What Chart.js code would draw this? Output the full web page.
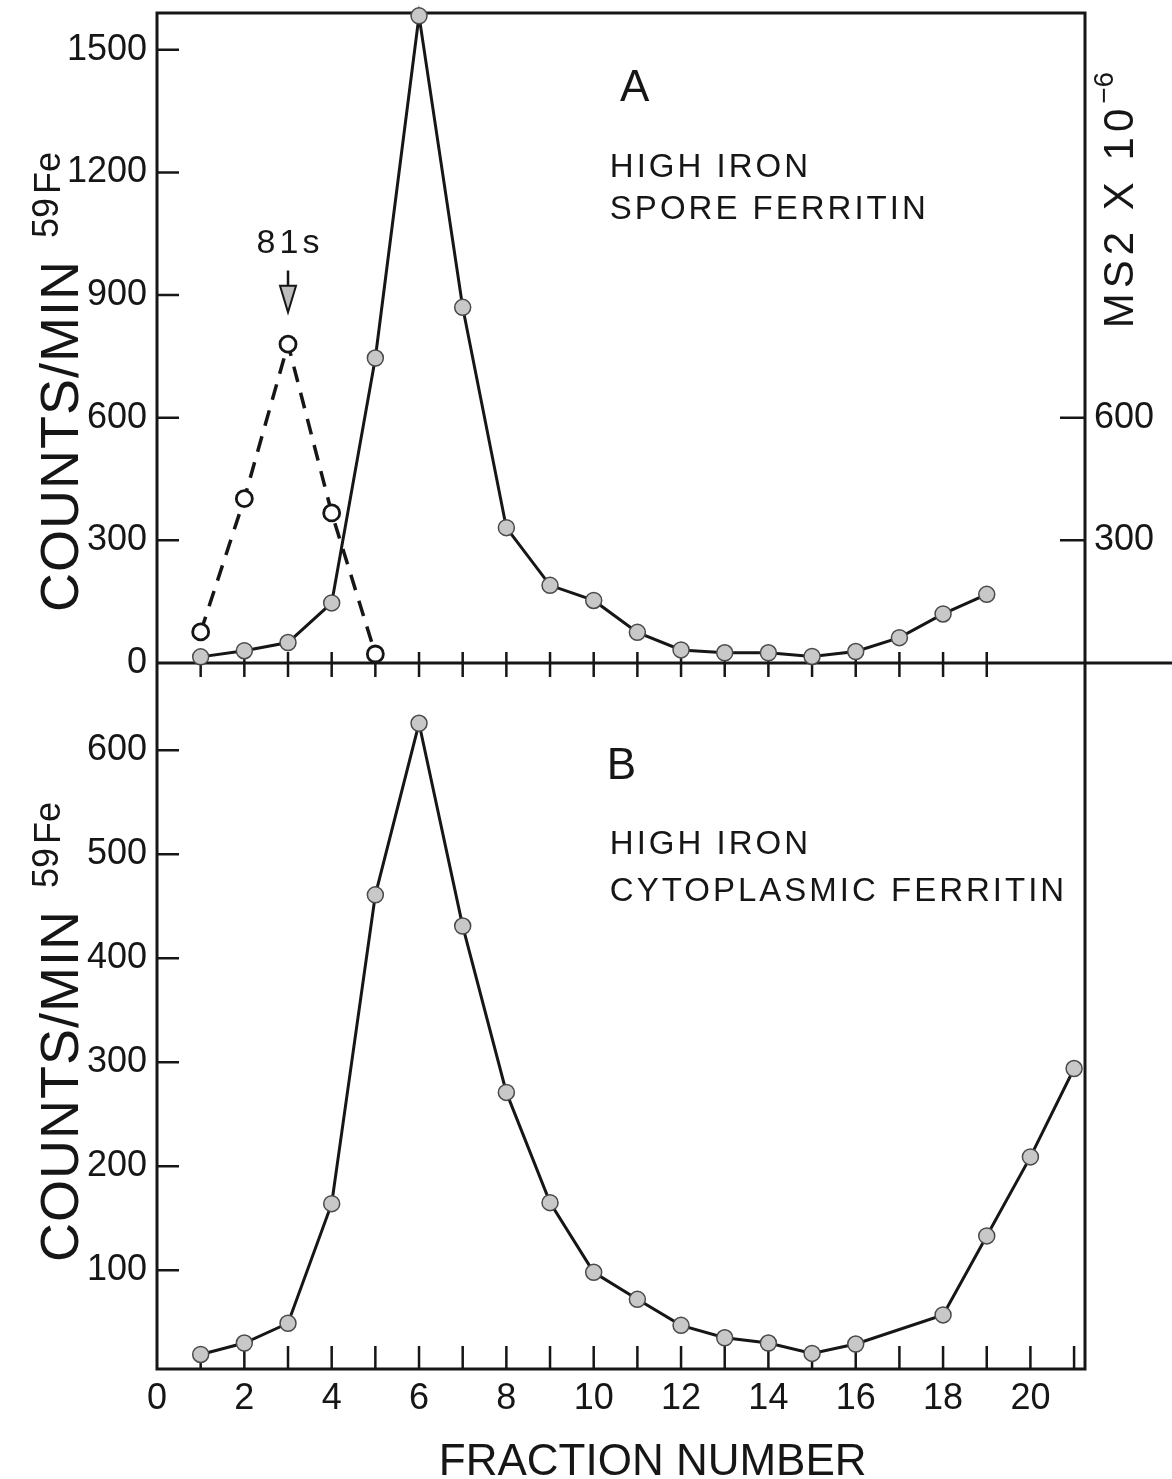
<!DOCTYPE html>
<html>
<head>
<meta charset="utf-8">
<title>Ferritin sedimentation</title>
<script src="https://cdn.jsdelivr.net/npm/chart.js@4.4.1/dist/chart.umd.min.js"></script>
<style>
  body { margin: 0; background: #fff; }
  #wrap { position: relative; width: 1172px; height: 1479px; }
  canvas { position: absolute; left: 0; }
  #chartA { top: 0; }
  #chartB { top: 650px; }
</style>
</head>
<body>
<div id="wrap">
  <canvas id="chartB" width="1172" height="829"></canvas>
  <canvas id="chartA" width="1172" height="700"></canvas>
</div>
<script>
// panel A - high iron spore ferritin (counts/min 59Fe)
const fractionsA = [1, 2, 3, 4, 5, 6, 7, 8, 9, 10, 11, 12, 13, 14, 15, 16, 17, 18, 19];
const sporeFerritin = [15, 30, 50, 147, 746, 1583, 870, 331, 190, 153, 75, 32, 25, 25, 16, 28, 62, 120, 168];

// MS2 marker (dashed, open circles), 81s peak at fraction 3
const fractionsMS2 = [1, 2, 3, 4, 5];
const ms2Marker = [76, 402, 780, 367, 22];

// panel B - high iron cytoplasmic ferritin
const fractionsB = [1, 2, 3, 4, 5, 6, 7, 8, 9, 10, 11, 12, 13, 14, 15, 16, 18, 19, 20, 21];
const cytoFerritin = [19, 30, 49, 164, 461, 626, 431, 271, 165, 98, 72, 47, 35, 30, 20, 29, 57, 133, 209, 294];

// ticks
const xTickLabels = [0, 2, 4, 6, 8, 10, 12, 14, 16, 18, 20];
const xTickMarksB = [1, 2, 3, 4, 5, 6, 7, 8, 9, 10, 11, 12, 13, 14, 15, 16, 17, 18, 19, 20, 21];
const yTicksA = [0, 300, 600, 900, 1200, 1500];
const yTicksMS2 = [300, 600];
const yTicksB = [100, 200, 300, 400, 500, 600];

const INK = '#161616';
const FONT = '"Liberation Sans", Arial, sans-serif';

const pts = (xs, ys) => xs.map((x, i) => ({ x: x, y: ys[i] }));
const fixTicks = list => s => { s.ticks = list.map(v => ({ value: v })); };
const tickFont = { family: FONT, size: 36 };

// fixed box sizes, no label overflow padding
const fixWidth = w => s => { s.width = w; s.paddingTop = 0; s.paddingBottom = 0; };
const fixHeight = h => s => { s.height = h; s.paddingLeft = 0; s.paddingRight = 0; };

function text(ctx, s, x, y, size, spacing, align) {
  ctx.font = size + 'px ' + FONT;
  ctx.letterSpacing = (spacing || 0) + 'px';
  ctx.textAlign = align || 'left';
  ctx.textBaseline = 'alphabetic';
  ctx.fillText(s, x, y);
}

// rotated (bottom to top) title made of parts with own size and raise
function rotTitle(ctx, cy, baseX, parts) {
  ctx.save();
  ctx.translate(baseX, cy);
  ctx.rotate(-Math.PI / 2);
  ctx.textBaseline = 'alphabetic';
  ctx.textAlign = 'left';
  let total = 0;
  parts.forEach(p => {
    ctx.font = p.size + 'px ' + FONT;
    ctx.letterSpacing = (p.sp || 0) + 'px';
    p.w = ctx.measureText(p.t).width;
    total += p.w + (p.gap || 0);
  });
  let pos = -total / 2;
  parts.forEach(p => {
    ctx.font = p.size + 'px ' + FONT;
    ctx.letterSpacing = (p.sp || 0) + 'px';
    ctx.fillText(p.t, pos, -(p.raise || 0));
    pos += p.w + (p.gap || 0);
  });
  ctx.restore();
}

const countsTitle = [
  { t: 'COUNTS/MIN', size: 54, sp: 1, gap: 22 },
  { t: '59', size: 36, raise: 20, gap: 4 },
  { t: 'Fe', size: 36, raise: 18 }
];

const frameA = {
  id: 'frameA',
  beforeDatasetsDraw(chart) {
    const { ctx, chartArea: a } = chart;
    const { x, y, y2 } = chart.scales;
    ctx.save();
    ctx.strokeStyle = INK;
    ctx.lineWidth = 3;
    ctx.beginPath();
    ctx.moveTo(a.left, a.bottom);
    ctx.lineTo(a.left, a.top);
    ctx.lineTo(a.right, a.top);
    ctx.lineTo(a.right, a.bottom);
    ctx.moveTo(a.left, a.bottom);
    ctx.lineTo(chart.width, a.bottom);
    ctx.stroke();
    ctx.lineWidth = 2.5;
    ctx.beginPath();
    y.ticks.forEach(t => {
      if (t.value === 0) return;
      const py = y.getPixelForValue(t.value);
      ctx.moveTo(a.left, py); ctx.lineTo(a.left + 22, py);
    });
    y2.ticks.forEach(t => {
      const py = y2.getPixelForValue(t.value);
      ctx.moveTo(a.right - 25, py); ctx.lineTo(a.right, py);
    });
    fractionsA.forEach(f => {
      const px = x.getPixelForValue(f);
      ctx.moveTo(px, a.bottom - 11); ctx.lineTo(px, a.bottom + 14);
    });
    ctx.stroke();
    ctx.restore();
  },
  afterDraw(chart) {
    const { ctx } = chart;
    const { x, y } = chart.scales;
    ctx.save();
    ctx.fillStyle = INK;
    text(ctx, 'A', x.getPixelForValue(10.6), y.getPixelForValue(1375), 44);
    text(ctx, 'HIGH IRON', x.getPixelForValue(10.37), y.getPixelForValue(1190), 33, 3);
    text(ctx, 'SPORE FERRITIN', x.getPixelForValue(10.37), y.getPixelForValue(1085), 33, 3);
    // 81s arrow
    const ax = x.getPixelForValue(3);
    text(ctx, '81s', ax + 2, y.getPixelForValue(1002), 34, 4, 'center');
    ctx.strokeStyle = INK;
    ctx.lineWidth = 2.5;
    ctx.beginPath();
    ctx.moveTo(ax, y.getPixelForValue(960));
    ctx.lineTo(ax, y.getPixelForValue(923));
    ctx.stroke();
    ctx.beginPath();
    ctx.moveTo(ax - 8, y.getPixelForValue(923));
    ctx.lineTo(ax + 8, y.getPixelForValue(923));
    ctx.lineTo(ax, y.getPixelForValue(858));
    ctx.closePath();
    ctx.fillStyle = '#bdbdbd';
    ctx.fill();
    ctx.lineWidth = 2;
    ctx.stroke();
    ctx.fillStyle = INK;
    rotTitle(ctx, 382, 78, countsTitle);
    rotTitle(ctx, 200, 1133, [
      { t: 'MS2 X 10', size: 42, sp: 5 },
      { t: '\u22126', size: 28, raise: 20 }
    ]);
    ctx.restore();
  }
};

const frameB = {
  id: 'frameB',
  beforeDatasetsDraw(chart) {
    const { ctx, chartArea: a } = chart;
    const { x, y } = chart.scales;
    ctx.save();
    ctx.strokeStyle = INK;
    ctx.lineWidth = 3;
    ctx.beginPath();
    ctx.moveTo(a.left, a.top);
    ctx.lineTo(a.left, a.bottom);
    ctx.lineTo(a.right, a.bottom);
    ctx.lineTo(a.right, a.top);
    ctx.stroke();
    ctx.lineWidth = 2.5;
    ctx.beginPath();
    y.ticks.forEach(t => {
      const py = y.getPixelForValue(t.value);
      ctx.moveTo(a.left, py); ctx.lineTo(a.left + 22, py);
    });
    xTickMarksB.forEach(f => {
      const px = x.getPixelForValue(f);
      ctx.moveTo(px, a.bottom); ctx.lineTo(px, a.bottom - 23);
    });
    ctx.stroke();
    ctx.restore();
  },
  afterDraw(chart) {
    const { ctx } = chart;
    const { x, y } = chart.scales;
    ctx.save();
    ctx.fillStyle = INK;
    text(ctx, 'B', x.getPixelForValue(10.3), y.getPixelForValue(572), 44);
    text(ctx, 'HIGH IRON', x.getPixelForValue(10.37), y.getPixelForValue(500), 33, 3);
    text(ctx, 'CYTOPLASMIC FERRITIN', x.getPixelForValue(10.37), y.getPixelForValue(455), 33, 3);
    text(ctx, 'FRACTION NUMBER', x.getPixelForValue(11.35), 825, 44, 0, 'center');
    rotTitle(ctx, 1032 - 650, 78, countsTitle);
    ctx.restore();
  }
};

const pointStyle = {
  borderColor: INK,
  borderWidth: 3,
  pointRadius: 8,
  pointBackgroundColor: '#c8c8c8',
  pointBorderColor: '#4a4a4a',
  pointBorderWidth: 1.5,
  tension: 0,
  clip: false
};

new Chart(document.getElementById('chartA'), {
  type: 'line',
  data: {
    datasets: [
      Object.assign({ label: 'Spore ferritin', data: pts(fractionsA, sporeFerritin), yAxisID: 'y' }, pointStyle),
      {
        label: 'MS2',
        data: pts(fractionsMS2, ms2Marker),
        yAxisID: 'y2',
        borderColor: INK,
        borderWidth: 3.5,
        borderDash: [16, 11],
        pointRadius: 8,
        pointBackgroundColor: '#fff',
        pointBorderColor: INK,
        pointBorderWidth: 2.8,
        tension: 0,
        clip: false
      }
    ]
  },
  options: {
    responsive: false,
    animation: false,
    layout: { autoPadding: false, padding: { top: 13, left: 0, right: 0, bottom: 0 } },
    plugins: { legend: { display: false }, tooltip: { enabled: false } },
    scales: {
      x: {
        type: 'linear', min: 0, max: 21.25,
        ticks: { display: false },
        grid: { display: false, drawTicks: false },
        border: { display: false },
        afterFit: fixHeight(37)
      },
      y: {
        min: 0, max: 1590,
        afterBuildTicks: fixTicks(yTicksA),
        ticks: { font: tickFont, color: INK, padding: 10, callback: v => String(v) },
        grid: { display: false, drawTicks: false },
        border: { display: false },
        afterFit: fixWidth(157)
      },
      y2: {
        position: 'right',
        min: 0, max: 1590,
        afterBuildTicks: fixTicks(yTicksMS2),
        ticks: { font: tickFont, color: INK, padding: 9, callback: v => String(v) },
        grid: { display: false, drawTicks: false },
        border: { display: false },
        afterFit: fixWidth(87)
      }
    }
  },
  plugins: [frameA]
});

new Chart(document.getElementById('chartB'), {
  type: 'line',
  data: {
    datasets: [
      Object.assign({ label: 'Cytoplasmic ferritin', data: pts(fractionsB, cytoFerritin) }, pointStyle)
    ]
  },
  options: {
    responsive: false,
    animation: false,
    layout: { autoPadding: false, padding: { top: 13, left: 0, right: 87, bottom: 0 } },
    plugins: { legend: { display: false }, tooltip: { enabled: false } },
    scales: {
      x: {
        type: 'linear', min: 0, max: 21.25,
        afterBuildTicks: fixTicks(xTickLabels),
        ticks: { font: tickFont, color: INK, padding: 8, autoSkip: false, maxRotation: 0, callback: v => String(v) },
        grid: { display: false, drawTicks: false },
        border: { display: false },
        afterFit: fixHeight(110)
      },
      y: {
        min: 5, max: 684,
        afterBuildTicks: fixTicks(yTicksB),
        ticks: { font: tickFont, color: INK, padding: 10, callback: v => String(v) },
        grid: { display: false, drawTicks: false },
        border: { display: false },
        afterFit: fixWidth(157)
      }
    }
  },
  plugins: [frameB]
});
</script>
</body>
</html>
